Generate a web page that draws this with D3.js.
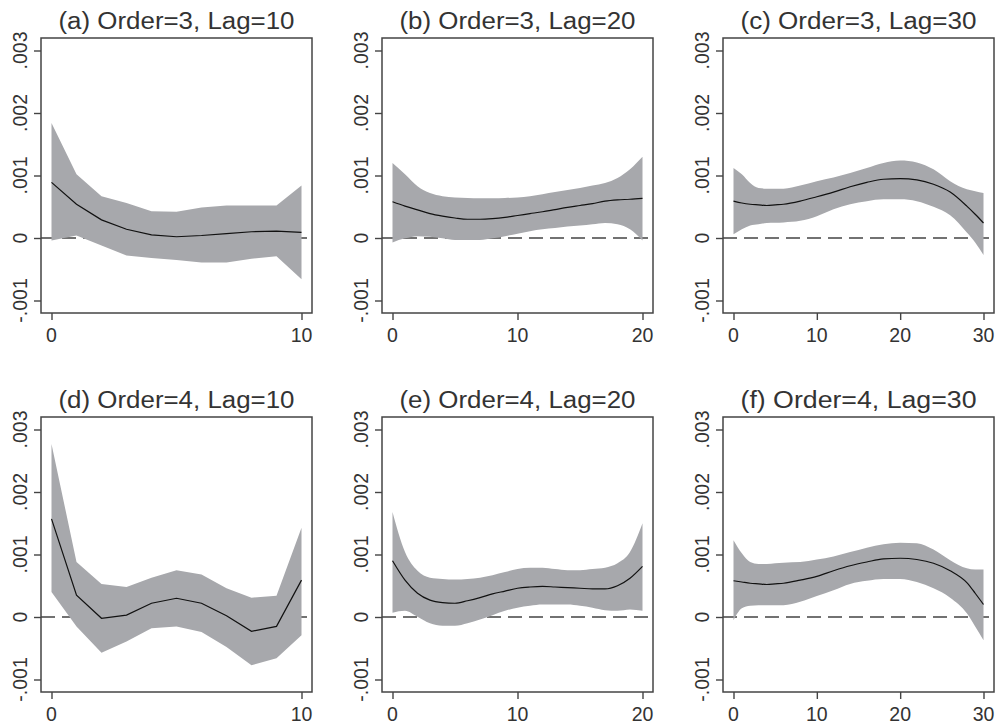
<!DOCTYPE html>
<html lang="en">
<head>
<meta charset="UTF-8">
<title>Lag response by order and lag length</title>
<script src="https://d3js.org/d3.v7.min.js"></script>
<style>
body { margin: 0; background: #fff; }
text { font-family: "Liberation Sans", Arial, sans-serif; fill: #333; }
</style>
</head>
<body>
<svg width="997" height="724"></svg>
<script>
// all values are in thousandths (0.001 units)
const yTicks = [3, 2, 1, 0, -1];
const yTickLabels = ['.003', '.002', '.001', '0', '-.001'];

// (a) Order=3, Lag=10
const lagA = d3.range(0, 11);
const hiA  = [1.84, 1.02, 0.67, 0.56, 0.43, 0.42, 0.49, 0.52, 0.52, 0.52, 0.84];
const fitA = [0.89, 0.54, 0.29, 0.14, 0.05, 0.02, 0.04, 0.07, 0.10, 0.11, 0.09];
const loA  = [-0.04, 0.04, -0.12, -0.28, -0.32, -0.35, -0.39, -0.39, -0.33, -0.29, -0.66];

// (b) Order=3, Lag=20
const lagB = d3.range(0, 21);
const hiB  = [1.20, 1.02, 0.83, 0.72, 0.67, 0.65, 0.64, 0.635, 0.635, 0.64, 0.65, 0.67, 0.70, 0.735, 0.77, 0.80, 0.84, 0.88, 0.96, 1.10, 1.30];
const fitB = [0.58, 0.51, 0.45, 0.39, 0.35, 0.32, 0.30, 0.30, 0.31, 0.33, 0.36, 0.39, 0.42, 0.455, 0.49, 0.52, 0.55, 0.59, 0.61, 0.62, 0.635];
const loB  = [-0.07, -0.005, 0.03, 0.02, -0.005, -0.03, -0.03, -0.03, -0.005, 0.03, 0.07, 0.11, 0.14, 0.16, 0.185, 0.20, 0.22, 0.24, 0.22, 0.14, -0.04];

// (c) Order=3, Lag=30
const lagC = [0, 1, 2, 3, 4, 5, 6, 8, 10, 12, 14, 16, 18, 20, 22, 24, 26, 28, 29, 30];
const hiC  = [1.12, 1.02, 0.88, 0.80, 0.79, 0.79, 0.79, 0.84, 0.91, 0.97, 1.04, 1.12, 1.20, 1.24, 1.21, 1.10, 0.91, 0.78, 0.75, 0.72];
const fitC = [0.59, 0.56, 0.54, 0.53, 0.52, 0.53, 0.54, 0.59, 0.66, 0.735, 0.82, 0.89, 0.94, 0.95, 0.93, 0.86, 0.735, 0.51, 0.38, 0.24];
const loC  = [0.06, 0.14, 0.20, 0.22, 0.24, 0.245, 0.25, 0.275, 0.35, 0.46, 0.54, 0.59, 0.62, 0.62, 0.59, 0.50, 0.365, 0.09, -0.07, -0.27];

// (d) Order=4, Lag=10
const lagD = d3.range(0, 11);
const hiD  = [2.77, 0.88, 0.53, 0.48, 0.63, 0.75, 0.68, 0.46, 0.31, 0.34, 1.43];
const fitD = [1.57, 0.35, -0.02, 0.03, 0.22, 0.30, 0.22, 0.02, -0.23, -0.15, 0.59];
const loD  = [0.40, -0.15, -0.57, -0.39, -0.18, -0.15, -0.24, -0.48, -0.77, -0.66, -0.29];

// (e) Order=4, Lag=20
const lagE = d3.range(0, 21);
const hiE  = [1.68, 1.04, 0.74, 0.63, 0.61, 0.60, 0.61, 0.63, 0.67, 0.72, 0.77, 0.79, 0.79, 0.77, 0.75, 0.75, 0.77, 0.79, 0.86, 1.04, 1.50];
const fitE = [0.90, 0.59, 0.38, 0.27, 0.23, 0.22, 0.26, 0.31, 0.37, 0.415, 0.46, 0.48, 0.49, 0.48, 0.47, 0.46, 0.45, 0.45, 0.50, 0.62, 0.81];
const loE  = [0.07, 0.10, 0.005, -0.10, -0.14, -0.14, -0.10, -0.04, 0.03, 0.10, 0.15, 0.18, 0.20, 0.20, 0.20, 0.18, 0.15, 0.11, 0.10, 0.12, 0.10];

// (f) Order=4, Lag=30
const lagF = [0, 1, 2, 3, 4, 5, 6, 8, 10, 12, 14, 16, 18, 20, 22, 24, 26, 28, 29, 30];
const hiF  = [1.23, 1.02, 0.88, 0.85, 0.85, 0.86, 0.87, 0.88, 0.92, 0.97, 1.04, 1.11, 1.165, 1.19, 1.18, 1.08, 0.91, 0.78, 0.76, 0.76];
const fitF = [0.58, 0.56, 0.54, 0.53, 0.52, 0.53, 0.54, 0.59, 0.65, 0.74, 0.82, 0.88, 0.93, 0.94, 0.92, 0.86, 0.74, 0.55, 0.38, 0.20];
const loF  = [-0.05, 0.14, 0.18, 0.19, 0.19, 0.19, 0.19, 0.245, 0.335, 0.43, 0.53, 0.58, 0.61, 0.61, 0.56, 0.46, 0.31, 0.06, -0.15, -0.37];

const titles = ['(a) Order=3, Lag=10', '(b) Order=3, Lag=20', '(c) Order=3, Lag=30',
                '(d) Order=4, Lag=10', '(e) Order=4, Lag=20', '(f) Order=4, Lag=30'];
const maxLags = [10, 20, 30, 10, 20, 30];
const xTickSets = [[0, 10], [0, 10, 20], [0, 10, 20, 30], [0, 10], [0, 10, 20], [0, 10, 20, 30]];

const series = [
  [lagA, hiA, fitA, loA], [lagB, hiB, fitB, loB], [lagC, hiC, fitC, loC],
  [lagD, hiD, fitD, loD], [lagE, hiE, fitE, loE], [lagF, hiF, fitF, loF]
];

const svg = d3.select('svg');
const lefts = [41, 382, 723];
const tops = [38, 417];
const w = 271, h = 275;
const pad = 10.5;
const frameColor = '#444';

series.forEach((s, i) => {
  const [lags, hi, fit, lo] = s;
  const data = lags.map((l, k) => ({ lag: l, hi: hi[k], fit: fit[k], lo: lo[k] }));
  const left = lefts[i % 3];
  const top = tops[Math.floor(i / 3)];
  const maxLag = maxLags[i];
  const unit = (w - 2 * pad) / maxLag;

  const x = d3.scaleLinear()
    .domain([-pad / unit, maxLag + pad / unit])
    .range([left, left + w]);
  const y = d3.scaleLinear()
    .domain([-1.2, 3.2])
    .range([top + h, top]);

  const curve = maxLag > 10 ? d3.curveMonotoneX : d3.curveLinear;
  const g = svg.append('g');

  // zero reference line (drawn under the band)
  g.append('line')
    .attr('x1', left).attr('x2', left + w)
    .attr('y1', y(0)).attr('y2', y(0))
    .attr('stroke', '#444')
    .attr('stroke-width', 1.3)
    .attr('stroke-dasharray', '14,7');

  g.append('path')
    .datum(data)
    .attr('fill', '#a7a8ac')
    .attr('d', d3.area()
      .x(d => x(d.lag))
      .y0(d => y(d.lo))
      .y1(d => y(d.hi))
      .curve(curve));

  g.append('path')
    .datum(data)
    .attr('fill', 'none')
    .attr('stroke', '#111')
    .attr('stroke-width', 1.2)
    .attr('d', d3.line()
      .x(d => x(d.lag))
      .y(d => y(d.fit))
      .curve(curve));

  // plot region outline
  g.append('rect')
    .attr('x', left).attr('y', top)
    .attr('width', w).attr('height', h)
    .attr('fill', 'none')
    .attr('stroke', frameColor)
    .attr('stroke-width', 1.5);

  // y axis
  const yAxis = d3.axisLeft(y)
    .tickValues(yTicks)
    .tickSize(7)
    .tickFormat('');
  const yAxisG = g.append('g')
    .attr('transform', `translate(${left},0)`)
    .call(yAxis);
  yAxisG.select('.domain').remove();
  yAxisG.selectAll('.tick line').attr('stroke', frameColor).attr('stroke-width', 1.4);

  g.selectAll('.ylab')
    .data(yTicks)
    .enter().append('text')
      .attr('class', 'ylab')
      .attr('transform', d => `translate(${left - 14.5},${y(d)}) rotate(-90)`)
      .attr('text-anchor', 'middle')
      .attr('font-size', 19.5)
      .text((d, k) => yTickLabels[k]);

  // x axis
  const xAxis = d3.axisBottom(x)
    .tickValues(xTickSets[i])
    .tickSize(7)
    .tickFormat('');
  const xAxisG = g.append('g')
    .attr('transform', `translate(0,${top + h})`)
    .call(xAxis);
  xAxisG.select('.domain').remove();
  xAxisG.selectAll('.tick line').attr('stroke', frameColor).attr('stroke-width', 1.4);

  g.selectAll('.xlab')
    .data(xTickSets[i])
    .enter().append('text')
      .attr('class', 'xlab')
      .attr('x', d => x(d))
      .attr('y', top + h + 29)
      .attr('text-anchor', 'middle')
      .attr('font-size', 19.5)
      .text(d => d);

  g.append('text')
    .attr('x', left + w / 2)
    .attr('y', top - 9)
    .attr('text-anchor', 'middle')
    .attr('font-size', 23.5)
    .attr('textLength', 236)
    .attr('lengthAdjust', 'spacingAndGlyphs')
    .text(titles[i]);
});
</script>
</body>
</html>
